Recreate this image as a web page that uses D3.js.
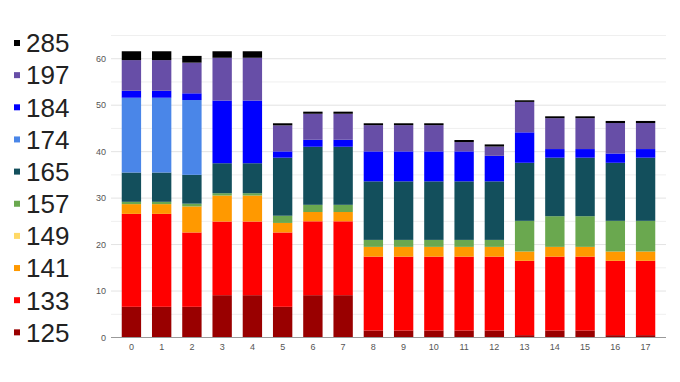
<!DOCTYPE html>
<html>
<head>
<meta charset="utf-8">
<script src="https://cdn.jsdelivr.net/npm/d3@7"></script>
<style>
  html, body { margin: 0; padding: 0; background: #fff; }
  svg { display: block; font-family: "Liberation Sans", Arial, sans-serif; }
</style>
</head>
<body>
<svg id="chart" width="680" height="382"></svg>
<script>
// Categories (x axis)
const categories = ["0","1","2","3","4","5","6","7","8","9","10","11","12","13","14","15","16","17"];
// Series keys, bottom to top of stack
const seriesKeys = ["125","133","141","149","157","165","174","184","197","285"];
const seriesColors = ["#990000","#ff0000","#ff9900","#ffd966","#6aa84f","#134f5c","#4a86e8","#0000ff","#674ea7","#000000"];
// Series values (one per category)
const s125 = [6.5, 6.5, 6.5, 9.0, 9.0, 6.5, 9.0, 9.0, 1.4, 1.4, 1.4, 1.4, 1.4, 0.4, 1.4, 1.4, 0.4, 0.4];
const s133 = [20.0, 20.0, 16.0, 15.85, 15.85, 16.0, 15.9, 15.9, 15.9, 15.9, 15.9, 15.9, 15.9, 16.0, 15.9, 15.9, 16.0, 16.0];
const s141 = [2.1, 2.1, 5.6, 5.6, 5.6, 2.05, 2.0, 2.0, 2.1, 2.1, 2.1, 2.1, 2.1, 2.0, 2.1, 2.1, 2.0, 2.0];
const s149 = [0, 0, 0, 0, 0, 0, 0, 0, 0, 0, 0, 0, 0, 0, 0, 0, 0, 0];
const s157 = [0.5, 0.5, 0.6, 0.5, 0.5, 1.55, 1.55, 1.55, 1.5, 1.5, 1.5, 1.5, 1.5, 6.6, 6.6, 6.6, 6.6, 6.6];
const s165 = [6.3, 6.3, 6.2, 6.45, 6.45, 12.5, 12.5, 12.5, 12.6, 12.6, 12.6, 12.6, 12.6, 12.5, 12.6, 12.6, 12.5, 13.6];
const s174 = [16.1, 16.1, 16.1, 0, 0, 0, 0, 0, 0, 0, 0, 0, 0, 0, 0, 0, 0, 0];
const s184 = [1.5, 1.5, 1.45, 13.5, 13.5, 1.35, 1.5, 1.5, 6.45, 6.45, 6.45, 6.45, 5.5, 6.55, 1.85, 1.85, 2.0, 1.85];
const s197 = [6.6, 6.6, 6.6, 9.2, 9.2, 5.6, 5.6, 5.6, 5.65, 5.65, 5.65, 2.0, 2.0, 6.55, 6.65, 6.65, 6.55, 5.6];
const s285 = [1.9, 1.9, 1.45, 1.4, 1.4, 0.45, 0.45, 0.45, 0.4, 0.4, 0.4, 0.45, 0.45, 0.35, 0.4, 0.4, 0.45, 0.45];
// Tick labels
const yTicks = [0, 10, 20, 30, 40, 50, 60];
const yGrid = [0, 5, 10, 15, 20, 25, 30, 35, 40, 45, 50, 55, 60, 65];
// Legend order (top to bottom)
const legendKeys = ["285","197","184","174","165","157","149","141","133","125"];

const seriesArrays = [s125, s133, s141, s149, s157, s165, s174, s184, s197, s285];
const table = categories.map((c, i) => {
  const row = { cat: c };
  seriesKeys.forEach((k, j) => { row[k] = seriesArrays[j][i]; });
  return row;
});
const colorOf = d3.scaleOrdinal().domain(seriesKeys).range(seriesColors);

const svg = d3.select("#chart");
const plotLeft = 111, plotRight = 666, plotTop = 35, plotBottom = 337;

const x = d3.scaleBand().domain(categories).range([plotLeft, plotRight]).paddingInner(0.36).paddingOuter(0.355);
const y = d3.scaleLinear().domain([0, 65]).range([plotBottom, plotTop]);

// gridlines
svg.append("g").selectAll("line").data(yGrid.filter(v => v > 0)).join("line")
  .attr("x1", plotLeft).attr("x2", plotRight)
  .attr("y1", d => y(d) + 0.5).attr("y2", d => y(d) + 0.5)
  .attr("stroke", d => d % 10 === 0 ? "#e3e3e3" : "#efefef")
  .attr("stroke-width", 1);

// y tick labels
svg.append("g").selectAll("text").data(yTicks).join("text")
  .attr("x", 106).attr("y", d => y(d) + 3.5)
  .attr("text-anchor", "end")
  .attr("font-size", 9).attr("fill", "#555")
  .text(d => d);

// stacked bars
const stacked = d3.stack().keys(seriesKeys)(table);
svg.append("g").selectAll("g").data(stacked).join("g")
  .attr("fill", d => colorOf(d.key))
  .selectAll("rect").data(d => d).join("rect")
  .attr("x", d => x(d.data.cat))
  .attr("width", x.bandwidth())
  .attr("y", d => y(d[1]))
  .attr("height", d => Math.max(0, y(d[0]) - y(d[1])));

// baseline
svg.append("line").attr("x1", plotLeft).attr("x2", plotRight)
  .attr("y1", plotBottom + 0.5).attr("y2", plotBottom + 0.5)
  .attr("stroke", "#999").attr("stroke-width", 1);

// x labels
svg.append("g").selectAll("text").data(categories).join("text")
  .attr("x", d => x(d) + x.bandwidth() / 2).attr("y", 350)
  .attr("text-anchor", "middle")
  .attr("font-size", 9).attr("fill", "#555")
  .text(d => d);

// legend
const leg = svg.append("g").selectAll("g").data(legendKeys).join("g")
  .attr("transform", (d, i) => `translate(0, ${43 + i * 32.15})`);
leg.append("rect").attr("x", 14).attr("y", -3).attr("width", 6).attr("height", 6)
  .attr("fill", d => colorOf(d));
leg.append("text").attr("x", 26).attr("y", 9.3)
  .attr("font-size", 26).attr("fill", "#222")
  .text(d => d);
</script>
</body>
</html>
